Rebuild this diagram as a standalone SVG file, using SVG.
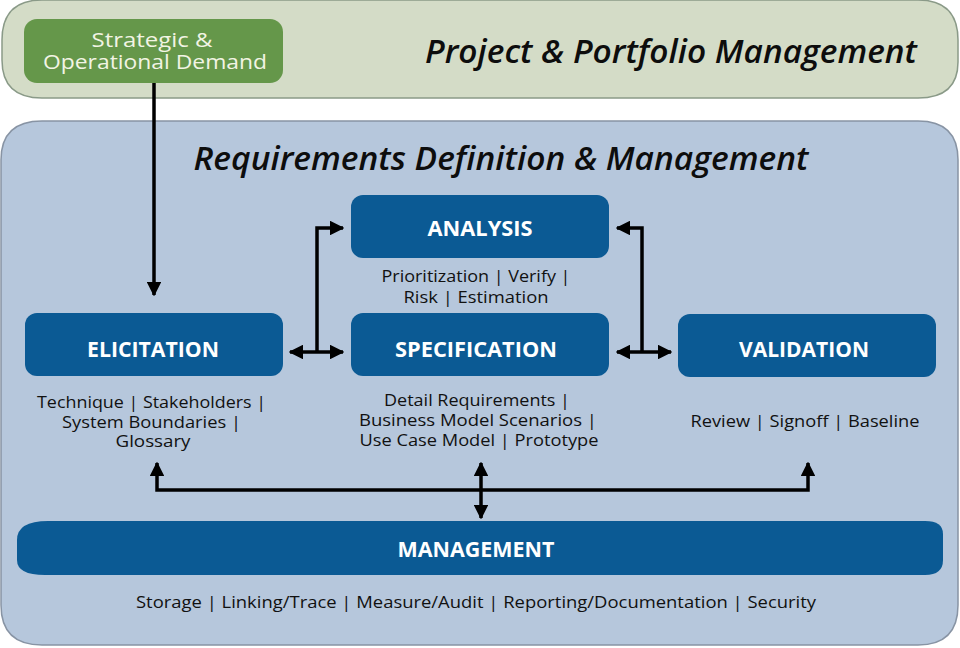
<svg xmlns="http://www.w3.org/2000/svg" width="960" height="648" viewBox="0 0 960 648">
<defs>
<style>
.box{fill:#0b5a94;}
.lbl{font-family:"Open Sans","Noto Sans",sans-serif;font-weight:bold;font-size:22px;fill:#ffffff;text-anchor:middle;}
.sub{font-family:"Open Sans","Noto Sans",sans-serif;font-size:16.5px;fill:#111111;text-anchor:middle;}
.ttl{font-family:"Open Sans","Noto Sans",sans-serif;font-style:italic;font-weight:600;font-size:33px;fill:#0d0d0d;text-anchor:middle;}
.grn{font-family:"Open Sans","Noto Sans",sans-serif;font-size:20px;fill:#f2f4e4;text-anchor:middle;}
.ln{fill:none;stroke:#000;stroke-width:3.5;}
</style>
<marker id="ah" viewBox="0 0 10 10" refX="9" refY="5" markerWidth="4.2" markerHeight="4.2" orient="auto-start-reverse" markerUnits="strokeWidth">
<path d="M0,0 L10,5 L0,10 z" fill="#000"/>
</marker>
</defs>
<rect width="960" height="648" fill="#ffffff"/>
<g id="portfolio">
<path d="M42,0 H918 Q958,0 958,40 V62 Q958,98 918,98 H42 Q2,98 2,60 V40 Q2,0 42,0 Z" fill="#d4dcc7" stroke="#8a9a88" stroke-width="1.5"/>
<text class="ttl" x="671" y="63" textLength="492" lengthAdjust="spacingAndGlyphs">Project &amp; Portfolio Management</text>
</g>
<g id="demand">
<rect x="24" y="19" width="259" height="64" rx="13" fill="#65974a"/>
<text class="grn" x="152" y="47" textLength="121" lengthAdjust="spacingAndGlyphs">Strategic &amp;</text>
<text class="grn" x="155" y="69" textLength="224" lengthAdjust="spacingAndGlyphs">Operational Demand</text>
</g>
<g id="rdm">
<path d="M42,121 H918 Q958,121 958,160 V605 Q958,645 918,645 H42 Q1,645 1,605 V160 Q1,121 42,121 Z" fill="#b6c7dc" stroke="#8894a4" stroke-width="1.5"/>
<text class="ttl" x="501" y="170" font-size="32" textLength="615" lengthAdjust="spacingAndGlyphs">Requirements Definition &amp; Management</text>
</g>
<g id="analysis">
<rect class="box" x="351" y="195" width="258" height="63" rx="12"/>
<text class="lbl" x="480" y="236" textLength="105" lengthAdjust="spacingAndGlyphs">ANALYSIS</text>
<text class="sub" x="476" y="282" textLength="189" lengthAdjust="spacingAndGlyphs">Prioritization | Verify |</text>
<text class="sub" x="476" y="303" textLength="145" lengthAdjust="spacingAndGlyphs">Risk | Estimation</text>
</g>
<g id="elicitation">
<rect class="box" x="25" y="313" width="258" height="63" rx="12"/>
<text class="lbl" x="153" y="357" textLength="132" lengthAdjust="spacingAndGlyphs">ELICITATION</text>
<text class="sub" x="151.5" y="408" textLength="229" lengthAdjust="spacingAndGlyphs">Technique | Stakeholders |</text>
<text class="sub" x="151.5" y="428" textLength="179" lengthAdjust="spacingAndGlyphs">System Boundaries |</text>
<text class="sub" x="153" y="447" textLength="75" lengthAdjust="spacingAndGlyphs">Glossary</text>
</g>
<g id="specification">
<rect class="box" x="351" y="313" width="258" height="63" rx="12"/>
<text class="lbl" x="476" y="357" textLength="162" lengthAdjust="spacingAndGlyphs">SPECIFICATION</text>
<text class="sub" x="477" y="406" textLength="186" lengthAdjust="spacingAndGlyphs">Detail Requirements |</text>
<text class="sub" x="478" y="426" textLength="238" lengthAdjust="spacingAndGlyphs">Business Model Scenarios |</text>
<text class="sub" x="479" y="446" textLength="239" lengthAdjust="spacingAndGlyphs">Use Case Model | Prototype</text>
</g>
<g id="validation">
<rect class="box" x="678" y="314" width="258" height="63" rx="12"/>
<text class="lbl" x="804" y="357" textLength="130" lengthAdjust="spacingAndGlyphs">VALIDATION</text>
<text class="sub" x="805" y="427" textLength="229" lengthAdjust="spacingAndGlyphs">Review | Signoff | Baseline</text>
</g>
<g id="management">
<path d="M48,521 H925 Q943,521 943,534 V560 Q943,575 925,575 H45 Q17,575 17,560 V540 Q17,521 48,521 Z" fill="#0b5a94"/>
<text class="lbl" x="476" y="557" textLength="157" lengthAdjust="spacingAndGlyphs">MANAGEMENT</text>
<text class="sub" x="476" y="608" textLength="680" lengthAdjust="spacingAndGlyphs">Storage | Linking/Trace | Measure/Audit | Reporting/Documentation | Security</text>
</g>
<g id="connectors">
<path class="ln" d="M154,83 V295" marker-end="url(#ah)"/>
<path class="ln" d="M317,352 V228 H343" marker-end="url(#ah)"/>
<path class="ln" d="M290,352 H343" marker-start="url(#ah)" marker-end="url(#ah)"/>
<path class="ln" d="M642,352 V228 H617" marker-end="url(#ah)"/>
<path class="ln" d="M617,352 H671" marker-start="url(#ah)" marker-end="url(#ah)"/>
<path class="ln" d="M157,463 V490 H808 V463" marker-start="url(#ah)" marker-end="url(#ah)"/>
<path class="ln" d="M481,463 V518" marker-start="url(#ah)" marker-end="url(#ah)"/>
</g>
</svg>
